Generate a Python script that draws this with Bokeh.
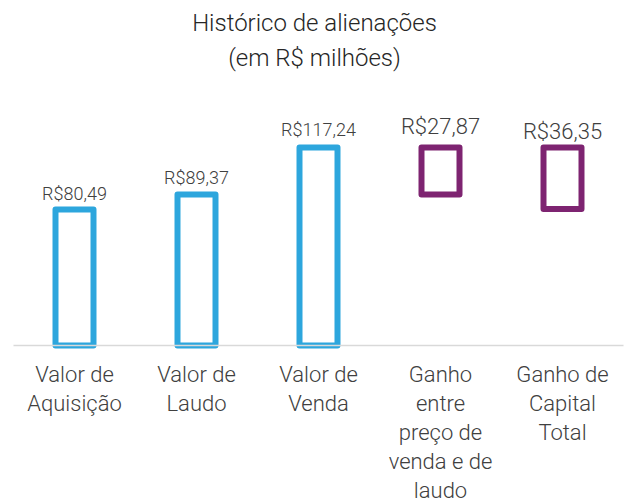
from bokeh.plotting import figure
from bokeh.models import Range1d, ColumnDataSource, Label
from bokeh.core.properties import value
from bokeh.embed import file_html
from bokeh.resources import INLINE

# ---- data ----
categories = ["Valor de\nAquisição", "Valor de\nLaudo", "Valor de\nVenda",
              "Ganho\nentre\npreço de\nvenda e de\nlaudo", "Ganho de\nCapital\nTotal"]
values = [80.49, 89.37, 117.24, 27.87, 36.35]
is_gain = [False, False, False, True, True]
title_lines = ["Histórico de alienações", "(em R$ milhões)"]

# ---- styles ----
BLUE = "#2DA6DD"
PURPLE = "#7E2471"
TXT = "#404040"
FONT = "Roboto Light, Roboto"
W, H = 628, 504
px_per_cat = 122.0
left_pad = 13.0
base_px_from_bottom = 159.0
px_per_unit = 1.689

# waterfall: base totals from zero, gains float down from the sale value
sale = values[2]
bottoms, tops, colors = [], [], []
for v, g in zip(values, is_gain):
    if g:
        bottoms.append(sale - v)
        tops.append(sale)
        colors.append(PURPLE)
    else:
        bottoms.append(0.0)
        tops.append(v)
        colors.append(BLUE)
xs = [i + 0.5 for i in range(len(values))]
labels = ["R$" + f"{v:.2f}".replace(".", ",") for v in values]
lab_size = ["18px" if not g else "22px" for g in is_gain]
lab_off = [-16, -17, -18, -21, -16]

x0 = -left_pad / px_per_cat
x1 = x0 + W / px_per_cat
y0 = -base_px_from_bottom / px_per_unit
y1 = y0 + H / px_per_unit

p = figure(width=W, height=H, x_range=Range1d(x0, x1), y_range=Range1d(y0, y1),
           output_backend="svg", toolbar_location=None, min_border=0,
           outline_line_color=None, background_fill_color="white",
           border_fill_color="white")
p.axis.visible = False
p.grid.visible = False

src = ColumnDataSource(dict(x=xs, bottom=bottoms, top=tops, color=colors,
                            label=labels, size=lab_size, off=lab_off))
p.vbar(x="x", bottom="bottom", top="top", width=38 / px_per_cat, source=src,
       fill_color=None, line_color="color", line_width=6, line_join="round")

# baseline
p.segment(x0=[0], x1=[len(values)], y0=[0], y1=[0], line_color="#d9d9d9", line_width=1.5)

# value labels
p.text(x="x", y="top", text="label", source=src, text_align="center",
       text_baseline="alphabetic", y_offset="off", text_font_size="size",
       text_color=TXT, text_font=value(FONT))

# category labels (one glyph per line)
cx, cy, ct, co = [], [], [], []
for i, c in enumerate(categories):
    for k, line in enumerate(c.split("\n")):
        cx.append(xs[i]); cy.append(0.0); ct.append(line); co.append(29 + 29 * k)
p.text(x=cx, y=cy, text=ct, y_offset=co, text_align="center", text_baseline="middle",
       text_font_size="22px", text_color=TXT, text_font=value(FONT))

# title
for k, t in enumerate(title_lines):
    p.add_layout(Label(x=W / 2, y=H - 22 - 35 * k, x_units="screen", y_units="screen",
                       text=t, text_align="center", text_baseline="middle",
                       text_font_size="24px", text_color="#262626", text_font=FONT))

open("out.html", "w").write(file_html(p, INLINE))
